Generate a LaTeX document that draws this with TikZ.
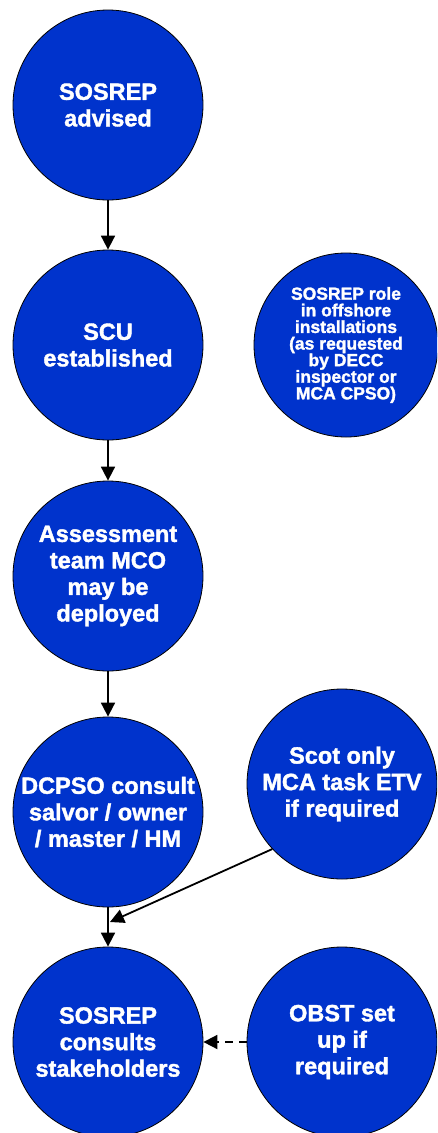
\documentclass[tikz,border=0pt]{standalone}
\usepackage{fontspec}
\setmainfont{Liberation Sans}[BoldFeatures={FakeBold=1.6}]
\usetikzlibrary{arrows.meta}
\definecolor{circblue}{RGB}{0,51,204}
\begin{document}
\begin{tikzpicture}[x=1pt,y=1pt,
  bubble/.style={circle,draw=black,line width=0.8pt,fill=circblue,minimum size=190pt,inner sep=0pt,
    text=white,font=\fontsize{23.5}{26.5}\selectfont\bfseries,align=center},
  smallbubble/.style={bubble,minimum size=184pt,font=\fontsize{17.5}{16.6}\selectfont\bfseries},
  conn/.style={line width=1.8pt,-{Triangle[length=14pt,width=14pt]}}]
\clip (0,0) rectangle (437,-1133);
\useasboundingbox (0,0) rectangle (437,-1133);
\node[bubble] (a) at (108,-105) {SOSREP\\advised};
\node[bubble] (b) at (108,-345) {SCU\\established};
\node[smallbubble] (o) at (346,-345) {SOSREP role\\in offshore\\installations\\(as requested\\by DECC\\inspector or\\MCA CPSO)};
\node[bubble] (c) at (108,-576) {Assessment\\team MCO\\may be\\deployed};
\node[bubble] (d) at (108,-812) {DCPSO consult\\salvor / owner\\/ master / HM};
\node[bubble] (s) at (342,-784) {Scot only\\MCA task ETV\\if required};
\node[bubble] (e) at (108,-1042) {SOSREP\\consults\\stakeholders};
\node[bubble] (f) at (342,-1042) {OBST set\\up if\\required};
\coordinate (m) at (110,-922);
\draw[conn] (a.south) -- (b.north);
\draw[conn] (b.south) -- (c.north);
\draw[conn] (c.south) -- (d.north);
\draw[conn] (d.south) -- (e.north);
\draw[conn] (s.223) -- (m);
\draw[conn,dash pattern=on 8pt off 6pt] (f.west) -- (e.east);
\end{tikzpicture}
\end{document}
